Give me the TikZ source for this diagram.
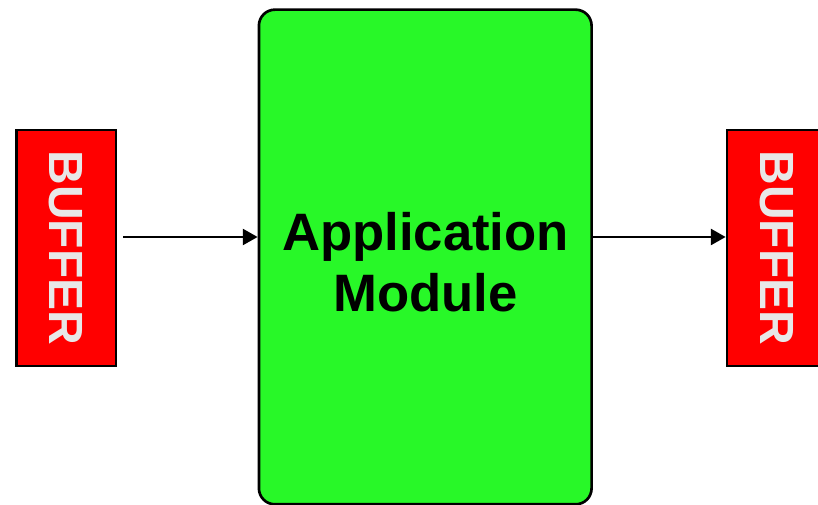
\documentclass[tikz,border=0pt]{standalone}
\usepackage{fontspec}
\setmainfont{Liberation Sans}
\usetikzlibrary{arrows.meta}
\definecolor{modgreen}{RGB}{40,248,40}
\definecolor{bufred}{RGB}{255,0,0}
\definecolor{buftext}{RGB}{232,232,232}
\begin{document}
\begin{tikzpicture}[x=0.75pt,y=-0.75pt,
  bufbox/.style={draw=black,line width=1.8pt,fill=bufred,minimum width=74.5pt,minimum height=177pt,inner sep=0pt},
  bufword/.style={text=buftext,font=\bfseries\fontsize{36}{36}\selectfont,rotate=-90},
  modbox/.style={draw=black,line width=2pt,fill=modgreen,rounded corners=12pt,minimum width=249.5pt,minimum height=371pt,inner sep=0pt},
  modword/.style={font=\bfseries\fontsize{39.5}{45.75}\selectfont,align=center},
  flow/.style={draw=black,line width=1.5pt,-{Triangle[length=11pt,width=12pt]}}]
\useasboundingbox (0,0) rectangle (818,505);
\begin{scope}
\clip (0,0) rectangle (818,505);
\node[bufbox] (inbuf) at (66.25,247.75) {};
\node[bufword] at (inbuf.center) {BUFFER};
\node[bufbox] (outbuf) at (776.5,247.75) {};
\node[bufword] at (outbuf.center) {BUFFER};
\node[modbox] (app) at (425.25,257) {};
\node[modword] (title) at (425.5,262) {Application\\Module};
\coordinate (src) at (123,237);
\draw[flow] (src) -- (src -| app.west);
\draw[flow] (app.east |- src) -- (outbuf.west |- src);
\end{scope}
\end{tikzpicture}
\end{document}
